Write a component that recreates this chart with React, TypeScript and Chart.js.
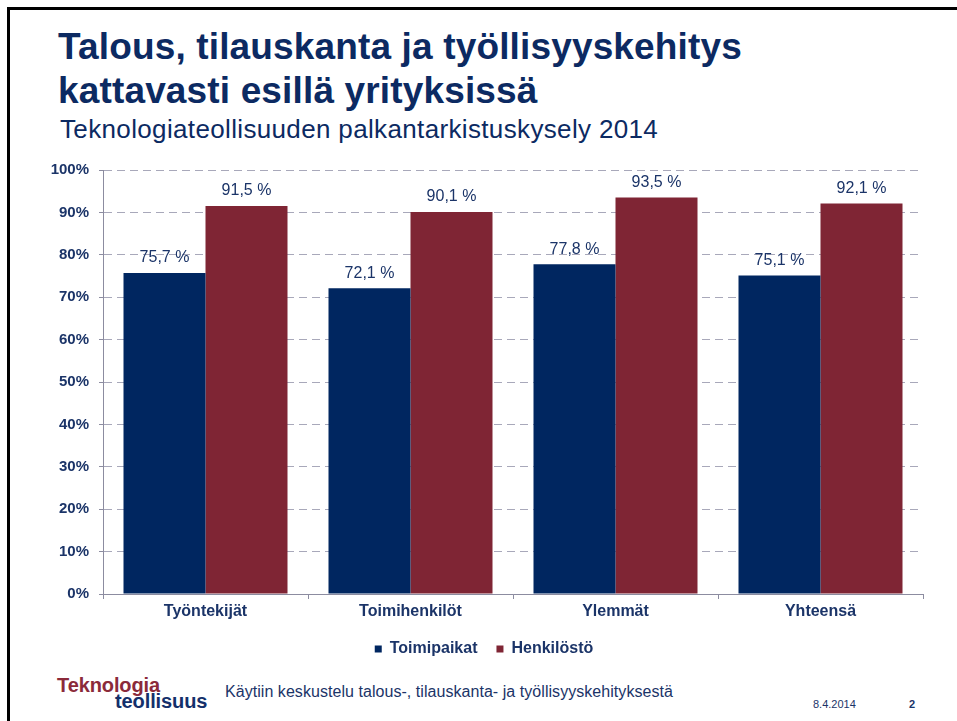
import React, { useEffect, useRef } from "react";
import { Chart, registerables } from "chart.js";

Chart.register(...registerables);

const categories = ["Työntekijät", "Toimihenkilöt", "Ylemmät", "Yhteensä"];
const seriesNames = ["Toimipaikat", "Henkilöstö"];
const toimipaikat = [75.7, 72.1, 77.8, 75.1];
const henkilosto = [91.5, 90.1, 93.5, 92.1];
const yMin = 0;
const yMax = 100;
const yStep = 10;

const FONT = "'Liberation Sans', Arial, sans-serif";
const NAVY = "#0c2a62";
const TEXT_NAVY = "#1b3468";
const BLUE = "#002660";
const RED = "#7f2534";

const fmt = (v: number) => v.toFixed(1).replace(".", ",") + " %";

const dataLabelPlugin = {
  id: "dataLabels",
  afterDatasetsDraw(chart: any) {
    const ctx = chart.ctx;
    ctx.save();
    ctx.font = `16px ${FONT}`;
    ctx.fillStyle = TEXT_NAVY;
    ctx.textAlign = "center";
    ctx.textBaseline = "middle";
    chart.data.datasets.forEach((ds: any, di: number) => {
      const meta = chart.getDatasetMeta(di);
      meta.data.forEach((el: any, i: number) => {
        ctx.fillText(fmt(ds.data[i]), el.x, el.y - 15);
      });
    });
    ctx.restore();
  },
};

function ChartView() {
  const ref = useRef<HTMLCanvasElement | null>(null);
  useEffect(() => {
    if (!ref.current) return;
    const chart = new Chart(ref.current, {
      type: "bar",
      data: {
        labels: categories,
        datasets: [
          {
            label: seriesNames[0],
            data: toimipaikat,
            backgroundColor: BLUE,
            categoryPercentage: 0.8,
            barPercentage: 1.0,
          },
          {
            label: seriesNames[1],
            data: henkilosto,
            backgroundColor: RED,
            categoryPercentage: 0.8,
            barPercentage: 1.0,
          },
        ],
      },
      options: {
        animation: false,
        responsive: false,
        maintainAspectRatio: false,
        layout: { padding: { left: 45, right: 34, top: 20, bottom: 3 } },
        plugins: {
          tooltip: { enabled: false },
          legend: {
            position: "bottom",
            labels: {
              boxWidth: 7,
              boxHeight: 7,
              padding: 19,
              color: TEXT_NAVY,
              font: { family: FONT, size: 16, weight: "bold" },
            },
          },
        },
        scales: {
          x: {
            grid: {
              offset: true,
              drawOnChartArea: false,
              drawTicks: true,
              tickLength: 5,
              color: "#8c8ca0",
            },
            border: { display: true, color: "#8c8ca0", width: 1 },
            ticks: {
              padding: 3,
              color: TEXT_NAVY,
              font: { family: FONT, size: 16, weight: "bold" },
            },
            afterFit: (s: any) => {
              s.height = 28;
            },
          },
          y: {
            min: yMin,
            max: yMax,
            ticks: {
              stepSize: yStep,
              padding: 10,
              color: TEXT_NAVY,
              font: { family: FONT, size: 15, weight: "bold" },
              callback: (v: any) => v + "%",
            },
            grid: {
              color: "#a8a8ba",
              lineWidth: 1,
              drawTicks: true,
              tickLength: 4,
              tickColor: "#8c8ca0",
              tickBorderDash: [],
            },
            border: { display: true, color: "#8c8ca0", width: 1, dash: [8, 5] },
            afterFit: (s: any) => {
              s.width = 58;
            },
          },
        },
      },
      plugins: [dataLabelPlugin],
    });
    return () => chart.destroy();
  }, []);
  return (
    <canvas
      ref={ref}
      width={957}
      height={520}
      style={{ position: "absolute", left: 0, top: 150, width: 957, height: 520 }}
    />
  );
}

export default function App() {
  const abs = (o: any) => ({ position: "absolute" as const, margin: 0, whiteSpace: "nowrap" as const, ...o });
  return (
    <div
      style={{
        position: "fixed",
        left: 0,
        top: 0,
        width: 957,
        height: 721,
        background: "#fff",
        overflow: "hidden",
        fontFamily: FONT,
      }}
    >
      <div
        style={{
          position: "absolute",
          left: 7,
          top: 7,
          width: 1000,
          height: 800,
          borderTop: "3px solid #000",
          borderLeft: "3px solid #000",
        }}
      />
      <div style={abs({ left: 58, top: 28, fontSize: 37, lineHeight: "37px", fontWeight: "bold", color: NAVY, letterSpacing: 0.15 })}>
        Talous, tilauskanta ja työllisyyskehitys
      </div>
      <div style={abs({ left: 58, top: 72, fontSize: 37, lineHeight: "37px", fontWeight: "bold", color: NAVY, letterSpacing: 0.15 })}>
        kattavasti esillä yrityksissä
      </div>
      <div style={abs({ left: 60, top: 116, fontSize: 26, lineHeight: "26px", color: NAVY, letterSpacing: 0.35 })}>
        Teknologiateollisuuden palkantarkistuskysely 2014
      </div>
      <ChartView />
      <div style={abs({ left: 57, top: 675, fontSize: 20, lineHeight: "20px", fontWeight: "bold", color: "#8b2a3a", letterSpacing: -0.1 })}>
        Teknologia
      </div>
      <div style={abs({ left: 115, top: 691, fontSize: 20, lineHeight: "20px", fontWeight: "bold", color: "#14306b", letterSpacing: -0.1 })}>
        teollisuus
      </div>
      <div style={abs({ left: 225, top: 684, fontSize: 16, lineHeight: "16px", color: TEXT_NAVY, letterSpacing: 0.05 })}>
        Käytiin keskustelu talous-, tilauskanta- ja työllisyyskehityksestä
      </div>
      <div style={abs({ left: 813, top: 699, fontSize: 11, lineHeight: "11px", color: TEXT_NAVY })}>8.4.2014</div>
      <div style={abs({ left: 909, top: 699, fontSize: 11, lineHeight: "11px", fontWeight: "bold", color: TEXT_NAVY })}>2</div>
    </div>
  );
}
